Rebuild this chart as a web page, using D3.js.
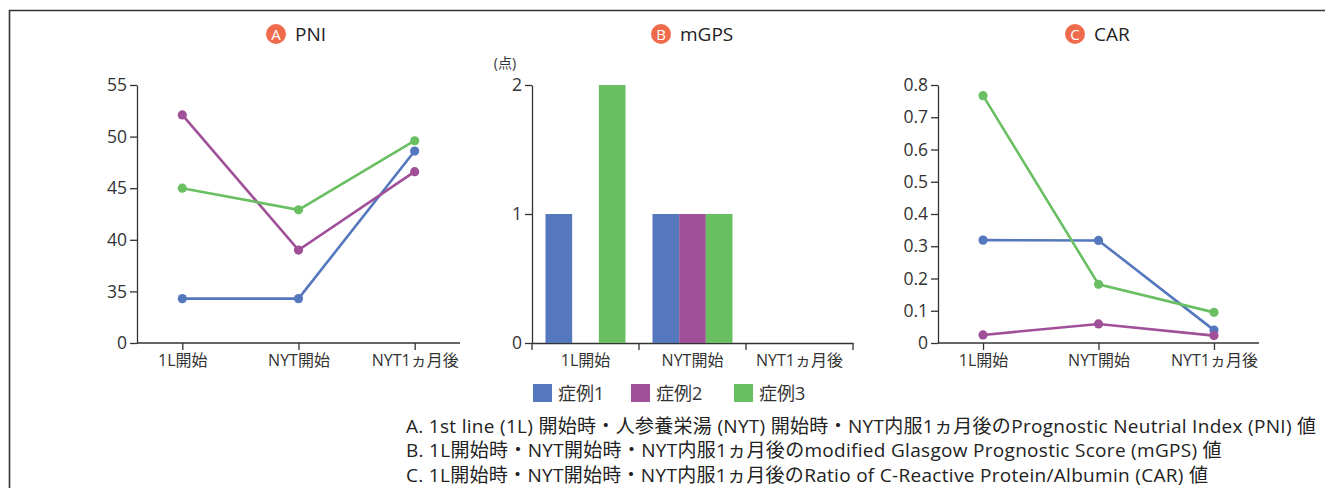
<!DOCTYPE html>
<html>
<head>
<meta charset="utf-8">
<script src="https://cdn.jsdelivr.net/npm/d3@7"></script>
<style>
  body { margin: 0; background: #fff; }
  svg { font-family: "Open Sans", "Noto Sans CJK JP", sans-serif; }
  .axis path, .axis line { stroke: #333; stroke-width: 1.3; }
  .axis text { fill: #333; font-size: 16px; font-family: "Open Sans", "Noto Sans CJK JP", sans-serif; }
  .yax text { font-size: 17.5px; }
</style>
</head>
<body>
<svg width="1325" height="488"></svg>
<script>
// categories and series
const timepoints = ["1L開始", "NYT開始", "NYT1ヵ月後"];
const caseNames = ["症例1", "症例2", "症例3"];
const caseColors = ["#5577be", "#a05098", "#6abf63"];

// PNI (axis is broken: bottom tick reads 0)
const pni1 = [34.3, 34.3, 48.6];
const pni2 = [52.1, 39.0, 46.6];
const pni3 = [45.0, 42.9, 49.6];
const pniTicks = [30, 35, 40, 45, 50, 55];

// mGPS
const mgps1 = [1, 1, 0];
const mgps2 = [0, 1, 0];
const mgps3 = [2, 1, 0];

// CAR
const car1 = [0.319, 0.318, 0.040];
const car2 = [0.025, 0.059, 0.023];
const car3 = [0.767, 0.182, 0.095];

const notes = [
  "A. 1st line (1L) 開始時・人参養栄湯 (NYT) 開始時・NYT内服1ヵ月後のPrognostic Neutrial Index (PNI) 値",
  "B. 1L開始時・NYT開始時・NYT内服1ヵ月後のmodified Glasgow Prognostic Score (mGPS) 値",
  "C. 1L開始時・NYT開始時・NYT内服1ヵ月後のRatio of C-Reactive Protein/Albumin (CAR) 値"
];

const svg = d3.select("svg");
const yTop = 85, yBottom = 343;

// frame
svg.append("path")
  .attr("d", "M9.5,500 V10.5 H1330")
  .attr("fill", "none").attr("stroke", "#333").attr("stroke-width", 1.6);

function title(cx, letter, label) {
  const g = svg.append("g");
  g.append("circle").attr("cx", cx).attr("cy", 34).attr("r", 10).attr("fill", "#ef6b4b");
  g.append("text").attr("x", cx).attr("y", 39.5).attr("text-anchor", "middle")
    .attr("fill", "#fff").attr("font-size", 15).text(letter);
  g.append("text").attr("x", cx + 19).attr("y", 41)
    .attr("fill", "#222").attr("font-size", 19).attr("font-weight", 500).text(label);
}

function lineChart(x0, x1, yDomain, yTicks, fmt, series) {
  const x = d3.scalePoint().domain(timepoints).range([x0, x1]).padding(0.39);
  const y = d3.scaleLinear().domain(yDomain).range([yBottom, yTop]);

  svg.append("g").attr("class", "axis")
    .attr("transform", `translate(0,${yBottom})`)
    .call(d3.axisBottom(x).tickSize(7).tickSizeOuter(0).tickPadding(5))
    .call(g => g.select(".domain").attr("d", `M${x0},0H${x1}`));

  svg.append("g").attr("class", "axis yax")
    .attr("transform", `translate(${x0},0)`)
    .call(d3.axisLeft(y).tickValues(yTicks).tickFormat(fmt).tickSize(7).tickSizeOuter(0).tickPadding(3));

  const line = d3.line().x((d, i) => x(timepoints[i])).y(d => y(d));
  series.forEach((vals, k) => {
    svg.append("path").datum(vals)
      .attr("fill", "none").attr("stroke", caseColors[k]).attr("stroke-width", 2.6)
      .attr("d", line);
    svg.append("g").selectAll("circle").data(vals).join("circle")
      .attr("cx", (d, i) => x(timepoints[i])).attr("cy", d => y(d))
      .attr("r", 4.6).attr("fill", caseColors[k]);
  });
}

// A: PNI
title(276, "A", "PNI");
lineChart(137, 460, [30, 55], pniTicks, d => d === 30 ? "0" : d, [pni1, pni2, pni3]);

// B: mGPS
title(661, "B", "mGPS");
{
  const x0 = 532, x1 = 853;
  const x = d3.scaleBand().domain(timepoints).range([x0, x1]);
  const xs = d3.scaleBand().domain(caseNames).range([0, 80]);
  const y = d3.scaleLinear().domain([0, 2]).range([yBottom, yTop]);
  const series = [mgps1, mgps2, mgps3];

  const ax = svg.append("g").attr("class", "axis")
    .attr("transform", `translate(0,${yBottom})`)
    .call(d3.axisBottom(x).tickSize(0).tickPadding(12));
  ax.selectAll(".tick line").remove();
  const bounds = timepoints.map(d => x(d)).concat([x1]);
  ax.selectAll("line.b").data(bounds).join("line")
    .attr("class", "b").attr("x1", d => d).attr("x2", d => d)
    .attr("y1", 0).attr("y2", 7);

  svg.append("g").attr("class", "axis yax")
    .attr("transform", `translate(${x0},0)`)
    .call(d3.axisLeft(y).ticks(2).tickFormat(d3.format("d")).tickSize(7).tickSizeOuter(0).tickPadding(3));

  svg.append("text").attr("x", 505).attr("y", 68).attr("text-anchor", "middle")
    .attr("fill", "#333").attr("font-size", 14).text("(点)");

  const off = (x.bandwidth() - 80) / 2;
  series.forEach((vals, k) => {
    svg.append("g").selectAll("rect").data(vals).join("rect")
      .attr("x", (d, i) => x(timepoints[i]) + off + xs(caseNames[k]))
      .attr("width", xs.bandwidth())
      .attr("y", d => y(d)).attr("height", d => y(0) - y(d))
      .attr("fill", caseColors[k]);
  });

  // legend
  const leg = svg.append("g").attr("transform", "translate(533,384)");
  const lx = [0, 98, 201];
  caseNames.forEach((n, k) => {
    leg.append("rect").attr("x", lx[k]).attr("y", 0).attr("width", 19).attr("height", 18)
      .attr("fill", caseColors[k]);
    leg.append("text").attr("x", lx[k] + 25).attr("y", 16)
      .attr("fill", "#333").attr("font-size", 18).text(n);
  });
}

// C: CAR
title(1075, "C", "CAR");
lineChart(938, 1259, [0, 0.8], d3.range(0, 0.81, 0.1), d => d === 0 ? "0" : d3.format(".1f")(d), [car1, car2, car3]);

// footnotes
svg.append("g").selectAll("text").data(notes).join("text")
  .attr("x", 406).attr("y", (d, i) => 433 + i * 24.3)
  .attr("fill", "#222").attr("font-size", 19).attr("letter-spacing", 0.3).text(d => d);
</script>
</body>
</html>
